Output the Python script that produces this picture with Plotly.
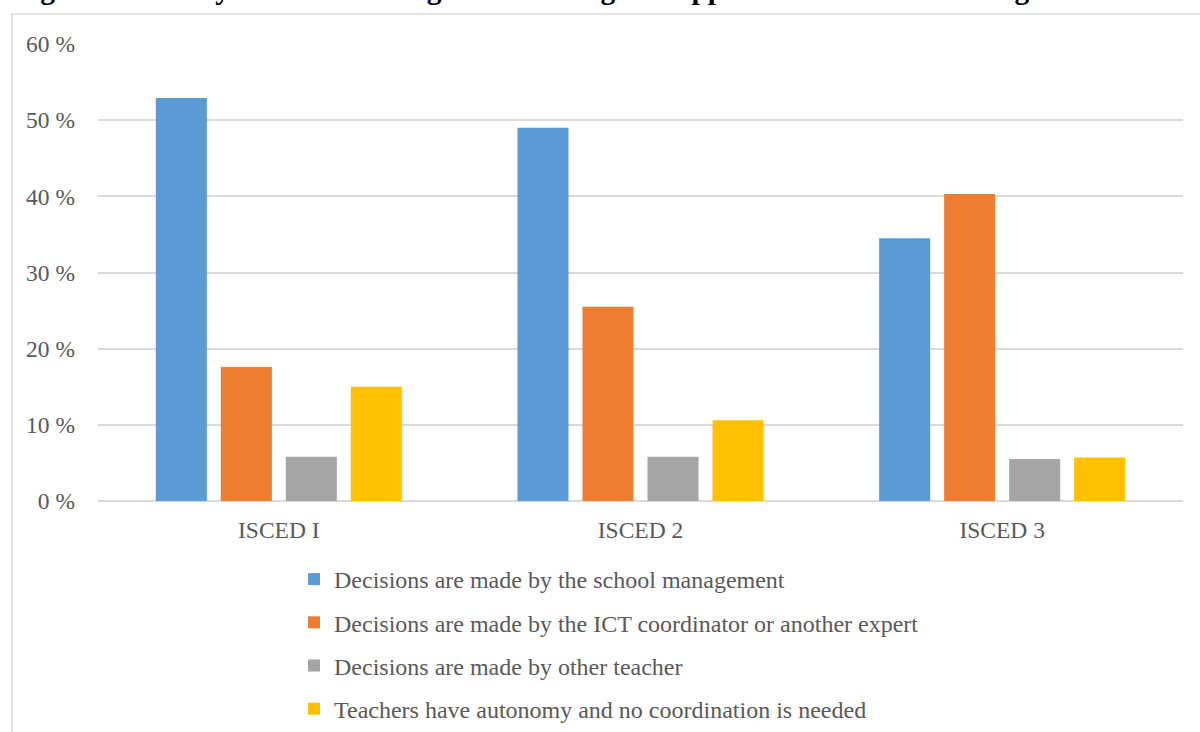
import plotly.graph_objects as go

categories = ["ISCED I", "ISCED 2", "ISCED 3"]
series_names = [
    "Decisions are made by the school management",
    "Decisions are made by the ICT coordinator or another expert",
    "Decisions are made by other teacher",
    "Teachers have autonomy and no coordination is needed",
]
school_management = [52.9, 49.0, 34.5]
ict_coordinator = [17.6, 25.5, 40.3]
other_teacher = [5.8, 5.8, 5.5]
autonomy = [15.0, 10.6, 5.7]
y_ticks = [0, 10, 20, 30, 40, 50, 60]
y_tick_labels = ["0 %", "10 %", "20 %", "30 %", "40 %", "50 %", "60 %"]
title_text = "Figure 4.13: Ways of coordinating the use of digital support for distance learning"

colors = ["#5B9BD5", "#ED7D31", "#A5A5A5", "#FFC000"]
values = [school_management, ict_coordinator, other_teacher, autonomy]

W, H = 1200, 732
plot_left, plot_right, plot_top, plot_bottom = 98, 1183, 44, 501

def fx(px):
    return px / W

def fy(py):
    return (H - py) / H

font_family = "Liberation Serif, Times New Roman, serif"

fig = go.Figure()
for i, (name, vals, col) in enumerate(zip(series_names, values, colors)):
    fig.add_trace(go.Bar(
        x=categories, y=vals, name=name,
        marker=dict(color=col, line=dict(width=0)),
        legendgroup=f"g{i}", xaxis="x", yaxis="y",
    ))

# Title strip: only the lower part of the (cropped) title is visible
fig.add_trace(go.Scatter(
    x=[14], y=[3.5], mode="text", text=["<b>" + title_text + "</b>"],
    textposition="top right", showlegend=False, hoverinfo="skip",
    cliponaxis=True,
    textfont=dict(family=font_family, size=29.5, color="black"),
    xaxis="x2", yaxis="y2",
))

fig.update_layout(
    width=W, height=H,
    margin=dict(l=0, r=0, t=0, b=0, pad=0, autoexpand=False),
    paper_bgcolor="white", plot_bgcolor="rgba(0,0,0,0)",
    barmode="group", bargap=0.281, bargroupgap=0.215,
    font=dict(family=font_family, size=23, color="#595959"),
    xaxis=dict(domain=[fx(plot_left), fx(plot_right)],
               showgrid=False, showline=False, zeroline=False, ticks="",
               tickfont=dict(size=23.5, color="#595959"), ticklabelstandoff=12,
               anchor="y"),
    yaxis=dict(domain=[fy(plot_bottom), fy(plot_top)], anchor="x",
               range=[0, 60], tickvals=y_ticks, ticktext=y_tick_labels,
               showgrid=True, gridcolor="#D9D9D9", gridwidth=1.5,
               zeroline=True, zerolinecolor="#D9D9D9", zerolinewidth=1.5,
               showline=False, ticks="", ticklabelstandoff=22,
               tickfont=dict(size=23.5, color="#595959")),
    xaxis2=dict(domain=[0, 1], range=[0, W], visible=False, fixedrange=True,
                anchor="y2"),
    yaxis2=dict(domain=[fy(10), 1], range=[0, 10], visible=False, fixedrange=True,
                anchor="x2"),
    showlegend=True,
    legend=dict(
        orientation="v", x=fx(294), xanchor="left",
        y=fy(557), yanchor="top",
        traceorder="grouped", tracegroupgap=9,
        font=dict(size=24, color="#595959", family=font_family),
        itemwidth=30, bgcolor="rgba(0,0,0,0)",
    ),
    shapes=[dict(type="rect", xref="paper", yref="paper",
                 x0=fx(12), x1=fx(1210), y0=fy(14), y1=fy(760),
                 line=dict(color="#D9D9D9", width=1.5), fillcolor="rgba(0,0,0,0)",
                 layer="below")],
)

fig.write_html("out.html")
